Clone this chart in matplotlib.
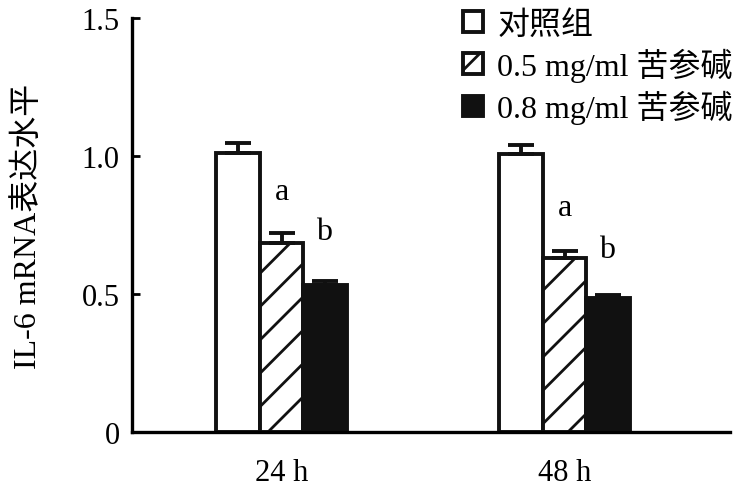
import numpy as np
import matplotlib
matplotlib.use("Agg")
import matplotlib.pyplot as plt

plt.rcParams['font.family'] = ['Liberation Serif', 'Noto Sans CJK SC']
plt.rcParams['hatch.linewidth'] = 2.0

# dati
gruppi = ["24 h", "48 h"]
serie = ["对照组", "0.5 mg/ml 苦参碱", "0.8 mg/ml 苦参碱"]
controllo = [1.01, 1.007]
dose_05 = [0.684, 0.63]
dose_08 = [0.534, 0.485]
err_controllo = [0.037, 0.033]
err_05 = [0.036, 0.025]
err_08 = [0.014, 0.012]
lettere = ["a", "b"]
pos_lettere = [[0.87, 0.725], [0.815, 0.66]]

valori = [controllo, dose_05, dose_08]
errori = [err_controllo, err_05, err_08]
stili = [
    dict(facecolor="white", hatch=None),
    dict(facecolor="white", hatch="/"),
    dict(facecolor="#111111", hatch=None),
]

fig = plt.figure(figsize=(7.46, 4.89), dpi=100)
ax = fig.add_axes([0.177, 0.1145, 0.802, 0.8465])

x = np.arange(len(gruppi))
w = 0.154
lw = 2.8

for i, (vals, errs, st) in enumerate(zip(valori, errori, stili)):
    xs = x + (i - 1) * w
    ax.bar(xs, vals, width=w, facecolor=st["facecolor"], edgecolor="#111111",
           linewidth=lw, hatch=st["hatch"], label=serie[i], zorder=2)
    ax.errorbar(xs, vals, yerr=[np.zeros(len(errs)), errs], fmt="none",
                ecolor="#111111", elinewidth=lw, capsize=9.5, capthick=lw, zorder=3)

# lettere di significatività
for g in range(len(gruppi)):
    ax.text(x[g] + 0.0, pos_lettere[g][0], lettere[0], ha="center", va="center", fontsize=23)
    ax.text(x[g] + 0.15, pos_lettere[g][1], lettere[1], ha="center", va="center", fontsize=23)

ax.set_xlim(-0.528, 1.585)
ax.set_ylim(0, 1.5)
ax.set_yticks([0, 0.5, 1.0, 1.5])
ax.set_yticklabels(["0", "0.5", "1.0", "1.5"])
ax.set_xticks(x)
ax.set_xticklabels(gruppi)
ax.tick_params(axis="y", direction="in", length=6, width=2, labelsize=22, pad=9)
ax.tick_params(axis="x", length=0, labelsize=22, pad=19)
ax.spines["top"].set_visible(False)
ax.spines["right"].set_visible(False)
ax.spines["left"].set_linewidth(2.4)
ax.spines["bottom"].set_linewidth(2.4)
ax.set_ylabel("IL-6 mRNA表达水平", fontsize=23, labelpad=28)

ax.legend(loc="upper left", bbox_to_anchor=(0.532, 1.05), frameon=False, fontsize=23,
          handlelength=0.62, handleheight=0.62, handletextpad=0.45, labelspacing=0.25,
          borderaxespad=0)

fig.savefig("out.png", dpi=100)
